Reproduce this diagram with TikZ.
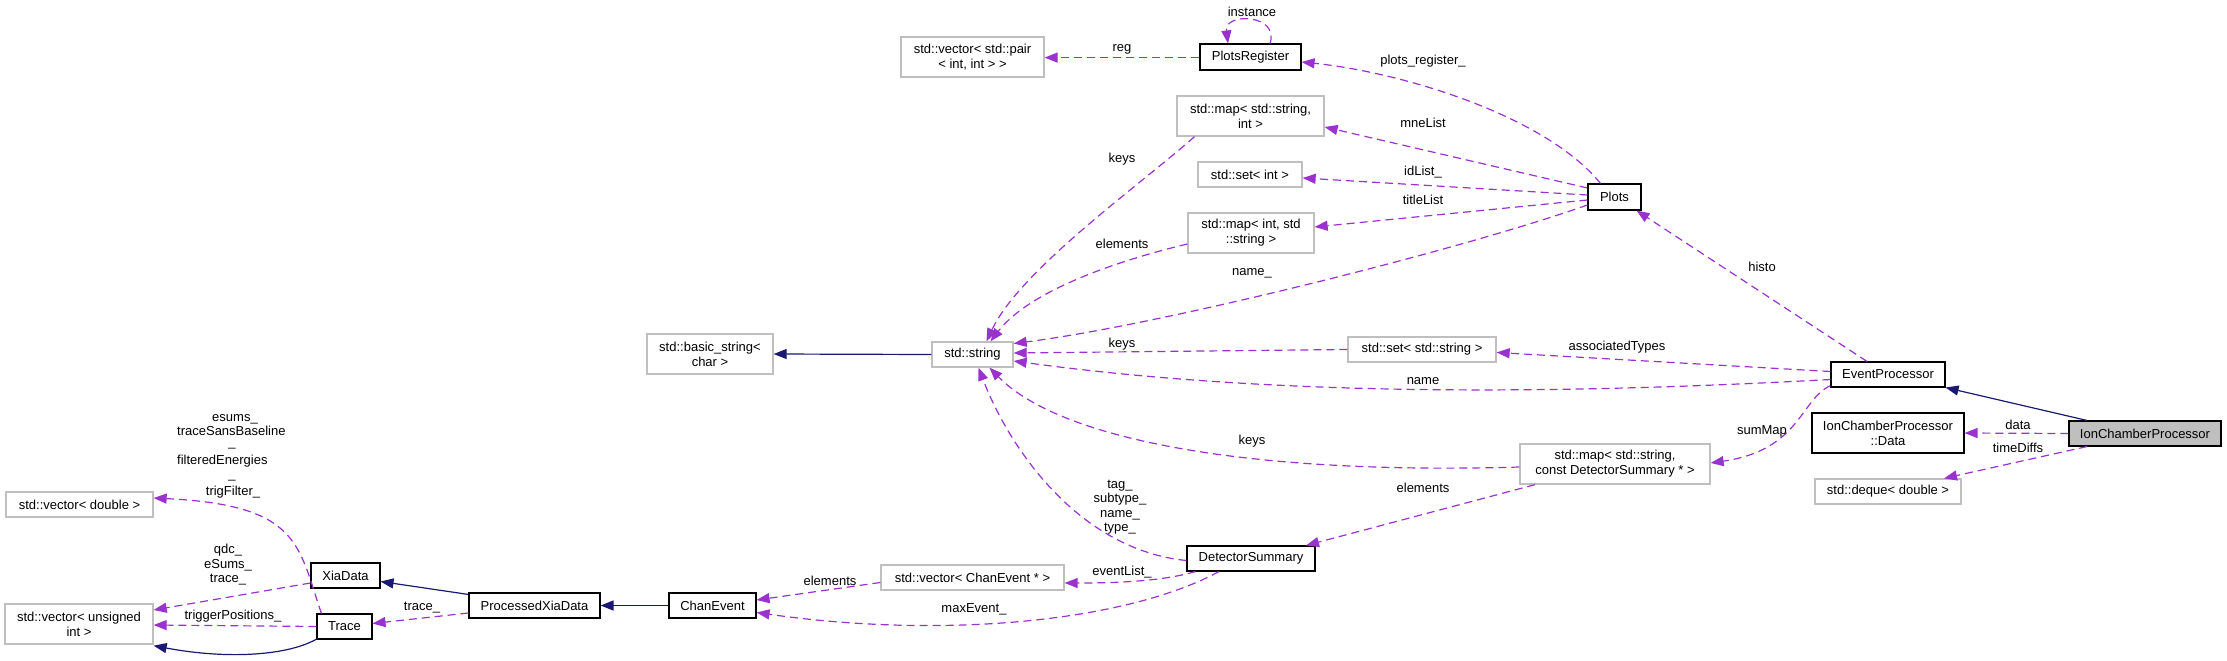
\documentclass[tikz,border=0pt]{standalone}
\usepackage{fontspec}
\setmainfont{Liberation Sans}
\usetikzlibrary{arrows.meta,calc}
\definecolor{edgepurple}{HTML}{9A32CD}
\definecolor{inhblue}{HTML}{191970}
\definecolor{boxgray}{HTML}{BFBFBF}
\begin{document}
\begin{tikzpicture}[x=1pt,y=-1pt,
  font=\fontsize{13}{15}\selectfont,
  box/.style={rectangle, draw=black, line width=1.1pt, fill=white, align=center, inner sep=0pt},
  extbox/.style={box, draw=boxgray, line width=1.3pt},
  member/.style={draw=edgepurple, line width=1.2pt, dash pattern=on 8pt off 5pt, -{Triangle[length=13pt,width=10pt]}},
  inherit/.style={draw=inhblue, line width=1.2pt, -{Triangle[length=13pt,width=10pt]}},
  lbl/.style={inner sep=0pt, align=center, font=\fontsize{13}{14.5}\selectfont}]
\useasboundingbox (0,0) rectangle (2227,661);

% ---- nodes ----
\node[extbox, minimum width=143pt, minimum height=40pt] (vecpair) at (972.5,57) {std::vector< std::pair\\< int, int > >};
\node[box, minimum width=101pt, minimum height=26pt] (plotsreg) at (1250.5,57) {PlotsRegister};
\node[extbox, minimum width=147pt, minimum height=40pt] (mapsi) at (1250.5,116) {std::map< std::string,\\ int >};
\node[extbox, minimum width=104pt, minimum height=25pt] (setint) at (1250,174.5) {std::set< int >};
\node[extbox, minimum width=126pt, minimum height=40pt] (mapis) at (1251,233) {std::map< int, std\\::string >};
\node[box, minimum width=53pt, minimum height=26pt] (plots) at (1614.5,197) {Plots};
\node[extbox, minimum width=126pt, minimum height=40pt] (basicstr) at (710,354) {std::basic\_string<\\ char >};
\node[extbox, minimum width=81pt, minimum height=25pt] (string) at (972.5,354.5) {std::string};
\node[extbox, minimum width=148pt, minimum height=25pt] (setstr) at (1422,349.5) {std::set< std::string >};
\node[extbox, minimum width=190pt, minimum height=40pt] (mapsd) at (1615,464) {std::map< std::string,\\ const DetectorSummary * >};
\node[box, minimum width=114pt, minimum height=25pt] (eventproc) at (1888,374.5) {EventProcessor};
\node[box, minimum width=152pt, minimum height=40pt] (icpdata) at (1888,433) {IonChamberProcessor\\::Data};
\node[box, fill=boxgray, minimum width=152pt, minimum height=25pt] (icp) at (2145,433.5) {IonChamberProcessor};
\node[extbox, minimum width=146pt, minimum height=25pt] (deque) at (1888,491.5) {std::deque< double >};
\node[box, minimum width=128pt, minimum height=25pt] (detsum) at (1251,558.5) {DetectorSummary};
\node[extbox, minimum width=183pt, minimum height=25pt] (vecce) at (972.5,577.5) {std::vector< ChanEvent * >};
\node[box, minimum width=87pt, minimum height=25pt] (chanevent) at (712.5,605.5) {ChanEvent};
\node[box, minimum width=131pt, minimum height=25pt] (pxd) at (534.5,605.5) {ProcessedXiaData};
\node[box, minimum width=69pt, minimum height=25pt] (xiadata) at (345.5,575.5) {XiaData};
\node[box, minimum width=55pt, minimum height=25pt] (trace) at (344.5,626.5) {Trace};
\node[extbox, minimum width=147pt, minimum height=25pt] (vecdouble) at (79.5,504.5) {std::vector< double >};
\node[extbox, minimum width=148pt, minimum height=40pt] (vecuint) at (79,624) {std::vector< unsigned\\ int >};

% ---- edges ----
\draw[member] ($(plotsreg.north)+(19.5,0)$) .. controls (1280,14) and (1224,12) .. ($(plotsreg.north)+(-22.5,0)$);
\draw[member] ($(plotsreg.west)+(0,0.6)$) -- ($(vecpair.east)+(0,0.6)$);
\draw[member] ($(plots.north)+(-14,0)$) .. controls (1545,115) and (1400,72) .. ($(plotsreg.east)+(0,5)$);
\draw[member] ($(plots.west)+(0,-9)$) -- ($(mapsi.east)+(0,11)$);
\draw[member] ($(plots.west)+(0,-2)$) -- ($(setint.east)+(0,3.5)$);
\draw[member] ($(plots.west)+(0,3)$) -- ($(mapis.east)+(0,-6)$);
\draw[member] ($(plots.west)+(0,8)$) .. controls (1460,250) and (1160,325) .. ($(string.east)+(0,-11)$);
\draw[member] ($(mapsi.south)+(-56,0)$) .. controls (1140,185) and (1020,270) .. ($(string.north)+(14,0)$);
\draw[member] ($(mapis.west)+(0,11)$) .. controls (1120,260) and (1030,290) .. ($(string.north)+(18,0)$);
\draw[member] (setstr.west) -- ($(string.east)+(0,-1.5)$);
\draw[member] ($(eventproc.west)+(0,5)$) .. controls (1600,392) and (1300,400) .. ($(string.east)+(0,6.5)$);
\draw[member] ($(mapsd.west)+(0,3)$) .. controls (1250,475) and (1060,440) .. ($(string.south)+(17,0)$);
\draw[member] ($(detsum.west)+(0,2)$) .. controls (1080,550) and (1010,450) .. ($(string.south)+(6,0)$);
\draw[inherit] (string.west) -- (basicstr.east);
\draw[member] ($(eventproc.north)+(-21,0)$) -- ($(plots.south)+(22,0)$);
\draw[member] ($(eventproc.west)+(0,-3)$) -- ($(setstr.east)+(0,3)$);
\draw[member] ($(eventproc.south west)+(0,-2)$) .. controls (1800,400) and (1800,450) .. ($(mapsd.east)+(0,-1)$);
\draw[inherit] ($(icp.north)+(-58,0)$) -- (eventproc.south east);
\draw[member] (icp.west) -- (icpdata.east);
\draw[member] ($(icp.south)+(-58,0)$) -- ($(deque.north)+(56,0)$);
\draw[member] ($(mapsd.south)+(-80,0)$) -- ($(detsum.north)+(55,0)$);
\draw[member] ($(detsum.south west)+(9,0)$) .. controls (1160,582) and (1110,583) .. ($(vecce.east)+(0,5.5)$);
\draw[member] ($(vecce.west)+(0,5)$) -- ($(chanevent.east)+(0,-5.5)$);
\draw[member] ($(detsum.south)+(-32,0)$) .. controls (1130,620) and (950,640) .. ($(chanevent.east)+(0,7)$);
\draw[inherit] (chanevent.west) -- (pxd.east);
\draw[inherit] ($(pxd.north west)+(0,2)$) -- ($(xiadata.east)+(0,6)$);
\draw[member] ($(pxd.west)+(0,7.5)$) -- ($(trace.east)+(0,-3)$);
\draw[inherit] ($(trace.south west)+(1,-1)$) .. controls (290,655) and (230,660) .. ($(vecuint.south east)+(0,1)$);
\draw[member] (trace.west) -- ($(vecuint.east)+(0,1)$);
\draw[member] ($(xiadata.west)+(0,7.5)$) -- ($(vecuint.east)+(0,-14)$);
\draw[member] ($(trace.north west)+(5,0)$) .. controls (298,545) and (300,505) .. ($(vecdouble.east)+(0,-6.5)$);

% ---- labels ----
\node[lbl] (linstance) at (1252,12) {instance};
\node[lbl] (lreg) at (1122,49) {reg};
\node[lbl] (lplotsreg) at (1423,61) {plots\_register\_};
\node[lbl] (lmne) at (1423,123) {mneList};
\node[lbl] (lkeysa) at (1122,159) {keys};
\node[lbl] (lidlist) at (1423,172) {idList\_};
\node[lbl] (ltitle) at (1423,200) {titleList};
\node[lbl] (lelemsa) at (1122,244) {elements};
\node[lbl] (lnameu) at (1252,273) {name\_};
\node[lbl] (lhisto) at (1762,267) {histo};
\node[lbl] (lkeysb) at (1122,344) {keys};
\node[lbl] (lassoc) at (1617,347) {associatedTypes};
\node[lbl] (lname) at (1423,381) {name};
\node[lbl] (lkeysc) at (1252,441) {keys};
\node[lbl] (lsummap) at (1762,431) {sumMap};
\node[lbl] (ldata) at (2018,425) {data};
\node[lbl] (ltimediffs) at (2018,448) {timeDiffs};
\node[lbl] (lelemsb) at (1423,488) {elements};
\node[lbl] (ltag) at (1120,507) {tag\_\\subtype\_\\name\_\\type\_};
\node[lbl] (leventlist) at (1122,572) {eventList\_};
\node[lbl] (lelemsc) at (830,581) {elements};
\node[lbl] (lmaxevent) at (974,609) {maxEvent\_};
\node[lbl] (ltraceu) at (422,608) {trace\_};
\node[lbl] (lqdc) at (228,565) {qdc\_\\eSums\_\\trace\_};
\node[lbl] (ltrigpos) at (233,616) {triggerPositions\_};
\node[lbl, anchor=base] (lesA) at (235,421) {esums\_};
\node[lbl, anchor=base west] (lesB) at (177,435) {traceSansBaseline};
\node[lbl, anchor=base] (lesC) at (232,446.5) {\_};
\node[lbl, anchor=base west] (lesD) at (177,464) {filteredEnergies};
\node[lbl, anchor=base] (lesE) at (232,478) {\_};
\node[lbl, anchor=base] (lesF) at (233,495) {trigFilter\_};
\end{tikzpicture}
\end{document}
